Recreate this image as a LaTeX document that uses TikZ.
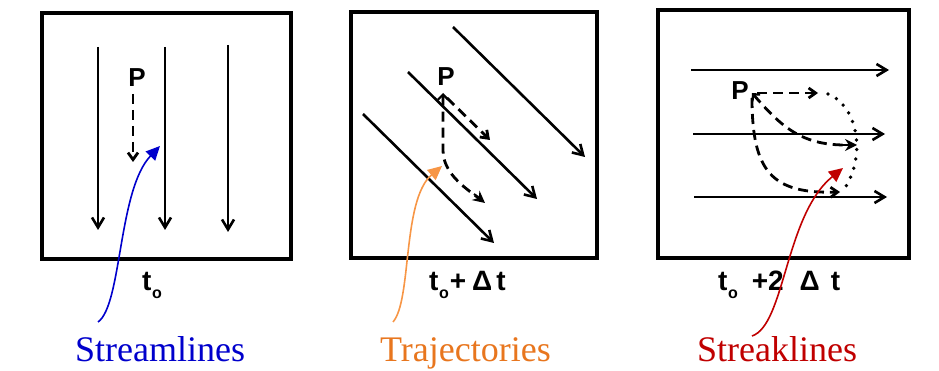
\documentclass[tikz,border=0pt]{standalone}
\usepackage{fontspec}
\setmainfont{Liberation Serif}
\setsansfont{Liberation Sans}
\usetikzlibrary{arrows.meta}
\definecolor{cblue}{RGB}{0,0,204}
\definecolor{corange}{RGB}{232,118,30}
\definecolor{corangearr}{RGB}{247,150,70}
\definecolor{cred}{RGB}{192,0,0}
\newcommand{\tsubo}{t\kern0.5pt\raisebox{-0.3em}{\fontsize{16}{16}\selectfont o}}
\begin{document}
\begin{tikzpicture}[x=1pt,y=-1pt,
  frame/.style={draw, line width=4pt},
  flow/.style={line width=2.6pt, -{Straight Barb[length=10pt,width=12pt,line width=2.6pt]}},
  traj/.style={line width=2.8pt, dash pattern=on 10pt off 6pt},
  dashtip/.style={-{Straight Barb[length=7pt,width=10pt,line width=2.8pt]}},
  boldtip/.style={-{Stealth[length=12pt,width=12pt]}},
  cornertip/.style={{Straight Barb[length=5pt,width=10pt,line width=2.2pt]}-},
  dots/.style={line width=3.8pt, line cap=round, dash pattern=on 0pt off 9.5pt},
  plabel/.style={font=\sffamily\bfseries\fontsize{28}{30}\selectfont, inner sep=0pt, anchor=base west},
  pname/.style={font=\sffamily\bfseries\fontsize{26}{28}\selectfont, inner sep=0pt, anchor=base},
  kind/.style={font=\fontsize{36}{40}\selectfont, inner sep=0pt, anchor=base west},
  callout/.style={line width=1.6pt, -{Triangle[length=14pt,width=13pt]}}
]
\useasboundingbox (0,0) rectangle (939,371);

% ---------- panel 1: streamlines ----------
\draw[frame] (42,13) rectangle (291,259);
\draw[flow] (98,47) -- (98,230);
\draw[flow] (165,47) -- (165,230);
\draw[flow] (228,45) -- (228,232);
\node[pname] (p1) at (137,87) {P};
\draw[traj, dashtip] (133,94) -- (133,162);
\node[plabel] (l1) at (142,290) {\tsubo};

% ---------- panel 2: trajectories ----------
\draw[frame] (351,12) rectangle (597,258);
\draw[flow] (453,27) -- (585,157);
\draw[flow] (408,72) -- (537,199);
\draw[flow] (363,114) -- (494,243);
\node[pname] (p2) at (446,86) {P};
\draw[traj, dashtip] (447,98) -- (490,140);
\draw[traj, cornertip] (443,93) -- (443,150) .. controls (443,172) and (462,186) .. (480,199);
\draw[line width=2pt, boldtip] (474,194) -- (485,203);
\node[plabel] (l2) at (429,290) {\tsubo\kern1pt+\kern6pt Δ\kern4pt t};

% ---------- panel 3: streaklines ----------
\draw[frame] (658,10) rectangle (909,258);
\draw[flow] (691,70) -- (889,70);
\draw[flow] (693,134) -- (885,134);
\draw[flow] (694,197) -- (887,197);
\node[pname] (p3) at (740,100) {P};
\draw[traj, dashtip] (757,93) -- (818,93);
\draw[traj, cornertip] (752,93) .. controls (780,125) and (800,145) .. (845,145);
\draw[line width=2pt, boldtip] (840,145) -- (857,145);
\draw[traj, dashtip] (752,98) .. controls (752,172) and (772,194) .. (840,192);
\draw[dots] (828,94) .. controls (858,106) and (866,155) .. (845,188);
\node[plabel] (l3) at (718,290) {\tsubo\kern14pt+2\kern16pt Δ\kern11pt t};

% ---------- labels and callouts ----------
\node[kind, text=cblue] (k1) at (75,361) {Streamlines};
\node[kind, text=corange] (k2) at (380,361) {Trajectories};
\node[kind, text=cred] (k3) at (697,361) {Streaklines};

\coordinate (b0) at (98,322);
\coordinate (b1) at (160,146);
\coordinate (o0) at (393,322);
\coordinate (o1) at (442,166);
\coordinate (r0) at (752,336);
\coordinate (r1) at (843,168);
\draw[callout, cblue] (b0) .. controls (122,305) and (118,190) .. (b1);
\draw[callout, corangearr] (o0) .. controls (412,300) and (402,200) .. (o1);
\draw[callout, cred] (r0) .. controls (785,325) and (785,215) .. (r1);
\end{tikzpicture}
\end{document}
